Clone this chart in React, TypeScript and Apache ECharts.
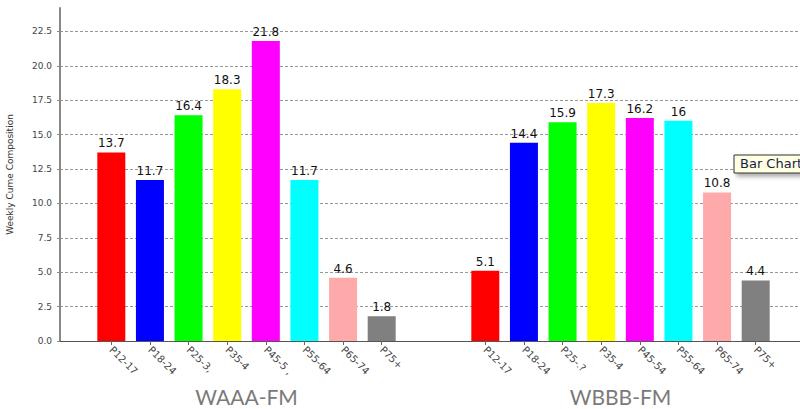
import React, { useEffect, useRef } from "react";
import * as echarts from "echarts";

const categoriesA = ["P12-17", "P18-24", "P25-3,", "P35-4", "P45-5 ,", "P55-64", "P65-74", "P75+"];
const categoriesB = ["P12-17", "P18-24", "P25-.?", "P35-4", "P45-54", "P55-64", "P65-74", "P75+"];
const valuesA = [13.7, 11.7, 16.4, 18.3, 21.8, 11.7, 4.6, 1.8];
const valuesB = [5.1, 14.4, 15.9, 17.3, 16.2, 16, 10.8, 4.4];
const barColors = ["#ff0000", "#0000ff", "#00ff00", "#ffff00", "#ff00ff", "#00ffff", "#ffaaaa", "#808080"];
const groupNames = ["WAAA-FM", "WBBB-FM"];
const yTitle = "Weekly Cume Composition";

const Y_MAX = 24.2;

export default function App() {
  const ref = useRef<HTMLDivElement>(null);
  useEffect(() => {
    if (!ref.current) return;
    const chart = echarts.init(ref.current, null, { renderer: "svg" });
    const catAxis = (gridIndex: number, cats: string[], name: string) => ({
      type: "category",
      gridIndex,
      data: cats,
      name,
      nameLocation: "middle",
      nameGap: 45,
      nameMoveOverlap: false,
      nameTextStyle: { fontSize: 21, color: "#7a7a7a", fontFamily: "Lato" },
      axisLine: { show: false },
      axisTick: { show: true, alignWithLabel: true, length: 4, lineStyle: { color: "#666" } },
      axisLabel: { rotate: -45, fontSize: 10, color: "#444", fontFamily: "DejaVu Sans", interval: 0, margin: 7 },
      splitLine: { show: false },
    });
    const hiddenY = (gridIndex: number) => ({
      type: "value",
      gridIndex,
      min: 0,
      max: Y_MAX,
      show: false,
      splitLine: { show: false },
    });
    const barSeries = (idx: number, vals: number[]) => ({
      type: "bar",
      xAxisIndex: idx,
      yAxisIndex: idx,
      barWidth: 28,
      data: vals.map((v, i) => ({ value: v, itemStyle: { color: barColors[i] } })),
      label: {
        show: true,
        position: "top",
        distance: 3,
        fontSize: 12,
        color: "#111",
        fontFamily: "DejaVu Sans",
      },
    });
    const gridBase = { top: 8, bottom: 68, outerBoundsMode: "none", containLabel: false };
    chart.setOption({
      animation: false,
      grid: [
        { ...gridBase, left: 60, right: 0 },
        { ...gridBase, left: 92, width: 309 },
        { ...gridBase, left: 466, width: 309 },
      ],
      xAxis: [
        {
          type: "value",
          gridIndex: 0,
          min: 0,
          max: 1,
          axisLine: { show: true, lineStyle: { color: "#555", width: 1 } },
          axisTick: { show: false },
          axisLabel: { show: false },
          splitLine: { show: false },
        },
        catAxis(1, categoriesA, groupNames[0]),
        catAxis(2, categoriesB, groupNames[1]),
      ],
      yAxis: [
        {
          type: "value",
          gridIndex: 0,
          min: 0,
          max: Y_MAX,
          interval: 2.5,
          name: yTitle,
          nameLocation: "middle",
          nameGap: 46,
          nameTextStyle: { fontSize: 9, color: "#333", fontFamily: "DejaVu Sans" },
          axisLine: { show: true, lineStyle: { color: "#888", width: 2 } },
          axisTick: { show: true, length: 3, lineStyle: { color: "#888" } },
          axisLabel: {
            fontSize: 9,
            color: "#444",
            fontFamily: "DejaVu Sans",
            showMaxLabel: false,
            formatter: (v: number) => v.toFixed(1),
          },
          splitLine: {
            show: true,
            showMaxLine: false,
            showMinLine: false,
            lineStyle: { color: "#999", type: [3, 2], width: 1 },
          },
        },
        hiddenY(1),
        hiddenY(2),
      ],
      series: [barSeries(1, valuesA), barSeries(2, valuesB)],
      graphic: [
        {
          type: "rect",
          shape: { x: 734, y: 155, width: 80, height: 18 },
          style: { fill: "#ffffe1", stroke: "#333", lineWidth: 1, shadowBlur: 4, shadowColor: "rgba(0,0,0,0.35)", shadowOffsetX: 3, shadowOffsetY: 3 },
          z: 100,
        },
        {
          type: "text",
          x: 740,
          y: 157,
          style: { text: "Bar Chart", fontSize: 13, fill: "#1a2050", fontFamily: "DejaVu Sans" },
          z: 101,
        },
      ],
    });
    return () => chart.dispose();
  }, []);
  return <div ref={ref} style={{ width: 800, height: 409, position: "absolute", left: 0, top: 0 }} />;
}
